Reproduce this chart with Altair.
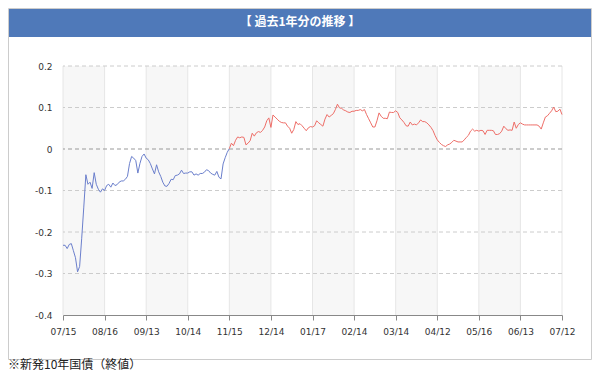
import json
import altair as alt
import pandas as pd

# ---------------- data ----------------
date_labels = ["07/15", "08/16", "09/13", "10/14", "11/15", "12/14", "01/17",
               "02/14", "03/14", "04/12", "05/16", "06/13", "07/12"]

values = [
    -0.232, -0.232, -0.240, -0.230, -0.228, -0.245, -0.262, -0.296, -0.283, -0.215,
    -0.140, -0.062, -0.085, -0.080, -0.095, -0.057, -0.085, -0.097, -0.104, -0.096,
    -0.100, -0.088, -0.085, -0.092, -0.082, -0.088, -0.086, -0.080, -0.077, -0.077,
    -0.073, -0.066, -0.035, -0.018, -0.022, -0.028, -0.058, -0.035, -0.018, -0.012,
    -0.022, -0.026, -0.035, -0.048, -0.060, -0.038, -0.055, -0.066, -0.080, -0.089,
    -0.090, -0.083, -0.073, -0.074, -0.064, -0.063, -0.060, -0.051, -0.059, -0.058,
    -0.058, -0.055, -0.055, -0.063, -0.060, -0.063, -0.059, -0.059, -0.056, -0.050,
    -0.052, -0.058, -0.061, -0.063, -0.054, -0.068, -0.072, -0.036, -0.021, -0.008,
    0.001, 0.014, 0.008, 0.021, 0.029, 0.027, 0.029, 0.028, 0.010, 0.014,
    0.020, 0.038, 0.031, 0.039, 0.042, 0.040, 0.045, 0.053, 0.068, 0.075,
    0.052, 0.082, 0.077, 0.072, 0.067, 0.064, 0.063, 0.063, 0.055, 0.050,
    0.038, 0.047, 0.066, 0.059, 0.061, 0.056, 0.050, 0.044, 0.051, 0.054,
    0.053, 0.056, 0.068, 0.063, 0.059, 0.055, 0.072, 0.083, 0.077, 0.081,
    0.085, 0.095, 0.108, 0.099, 0.098, 0.094, 0.092, 0.089, 0.088, 0.091,
    0.091, 0.093, 0.093, 0.095, 0.092, 0.095, 0.083, 0.073, 0.063, 0.053,
    0.053, 0.068, 0.087, 0.079, 0.074, 0.074, 0.073, 0.089, 0.088, 0.088,
    0.092, 0.088, 0.075, 0.070, 0.064, 0.056, 0.055, 0.065, 0.058, 0.060,
    0.058, 0.063, 0.070, 0.066, 0.066, 0.063, 0.058, 0.052, 0.044, 0.032,
    0.022, 0.016, 0.011, 0.008, 0.006, 0.010, 0.012, 0.016, 0.021, 0.019,
    0.017, 0.017, 0.017, 0.022, 0.028, 0.033, 0.043, 0.048, 0.043, 0.045,
    0.043, 0.045, 0.044, 0.035, 0.045, 0.045, 0.045, 0.044, 0.035, 0.035,
    0.037, 0.043, 0.055, 0.049, 0.045, 0.046, 0.045, 0.065, 0.050, 0.059,
    0.063, 0.060, 0.058, 0.058, 0.058, 0.058, 0.058, 0.058, 0.058, 0.055,
    0.048, 0.063, 0.077, 0.080, 0.086, 0.092, 0.101, 0.090, 0.091, 0.096,
    0.083,
]

y_ticks = [-0.4, -0.3, -0.2, -0.1, 0, 0.1, 0.2]
y_labels = ["-0.4", "-0.3", "-0.2", "-0.1", "0", "0.1", "0.2"]

TITLE = "【 過去1年分の推移 】"
NOTE = "※新発10年国債（終値）"

# ---------------- structure ----------------
n = len(values)
step = (n - 1) // (len(date_labels) - 1)
tick_idx = [k * step for k in range(len(date_labels))]

first_pos = next(i for i, v in enumerate(values) if v >= 0)
rows = []
for i, v in enumerate(values):
    if i <= first_pos:
        rows.append({"i": i, "v": v, "seg": "neg"})
    if i >= first_pos:
        rows.append({"i": i, "v": v, "seg": "pos"})
line_df = pd.DataFrame(rows)

bands_df = pd.DataFrame({
    "s": [tick_idx[k] for k in range(0, len(tick_idx) - 1, 2)],
    "e": [tick_idx[k + 1] for k in range(0, len(tick_idx) - 1, 2)],
})

W, H = 499, 249
LABEL_FONT = "DejaVu Sans"
CJK = "Noto Sans CJK JP"

xscale = alt.Scale(domain=[0, n - 1], nice=False, zero=False)
yscale = alt.Scale(domain=[-0.4, 0.2], nice=False, zero=False)

x_label_expr = json.dumps(date_labels) + f"[round(datum.value / {step})]"
y_label_expr = json.dumps(y_labels) + "[round((datum.value + 0.4) * 10)]"

x_axis = alt.Axis(
    values=tick_idx, labelExpr=x_label_expr, grid=False, title=None,
    domainColor="#888888", tickColor="#888888", tickSize=5,
    labelFont=LABEL_FONT, labelFontSize=9, labelColor="#333333",
    labelPadding=7, labelFlush=False, labelOverlap=False, zindex=1,
)
y_axis = alt.Axis(
    values=y_ticks, labelExpr=y_label_expr, grid=False, title=None,
    domain=False, ticks=False, labelPadding=11, zindex=1,
    labelFont=LABEL_FONT, labelFontSize=9, labelColor="#333333",
)

one = pd.DataFrame({"a": [0]})

frame = alt.Chart(one).mark_rect(fill="white", stroke="#cccccc", strokeWidth=1).encode(
    x=alt.value(-54.5), x2=alt.value(528.5), y=alt.value(-57.5), y2=alt.value(293.5)
)

titlebar = alt.Chart(one).mark_rect(fill="#4f79b9").encode(
    x=alt.value(-54), x2=alt.value(528), y=alt.value(-57), y2=alt.value(-29)
)

title_text = alt.Chart(pd.DataFrame({"t": [TITLE]})).mark_text(
    color="white", font=CJK, fontSize=12, fontWeight="bold",
    align="center", baseline="middle"
).encode(x=alt.value(237), y=alt.value(-44), text="t:N")

note_text = alt.Chart(pd.DataFrame({"t": [NOTE]})).mark_text(
    color="#222222", font=CJK, fontSize=12, align="left", baseline="alphabetic"
).encode(x=alt.value(-55), y=alt.value(303), text="t:N")

bands = alt.Chart(bands_df).mark_rect(color="#f7f7f7").encode(
    x=alt.X("s:Q", scale=xscale, axis=x_axis),
    x2="e:Q",
    y=alt.value(0),
    y2=alt.value(H),
)

vgrid = alt.Chart(pd.DataFrame({"i": tick_idx})).mark_rule(
    color="#e6e6e6", strokeWidth=1
).encode(x=alt.X("i:Q", scale=xscale, axis=x_axis))

hgrid = alt.Chart(pd.DataFrame({"v": [t for t in y_ticks if t > -0.4]})).mark_rule(
    strokeDash=[4, 3], strokeWidth=1
).encode(
    y=alt.Y("v:Q", scale=yscale, axis=y_axis),
    color=alt.condition("datum.v == 0", alt.value("#999999"), alt.value("#cccccc")),
)

line = alt.Chart(line_df).mark_line(strokeWidth=1).encode(
    x=alt.X("i:Q", scale=xscale, axis=x_axis),
    y=alt.Y("v:Q", scale=yscale, axis=y_axis),
    color=alt.Color(
        "seg:N",
        scale=alt.Scale(domain=["neg", "pos"], range=["#6b7fcc", "#ee6e68"]),
        legend=None,
    ),
    order="i:Q",
)

chart = alt.layer(
    frame, titlebar, title_text, bands, vgrid, hgrid, line, note_text
).properties(
    width=W,
    height=H,
    autosize=alt.AutoSizeParams(type="none"),
    padding={"left": 55, "top": 58, "right": 30, "bottom": 59},
    background="white",
).configure_view(stroke=None)

chart.save("out.html", embed_options={"renderer": "svg", "actions": False})
